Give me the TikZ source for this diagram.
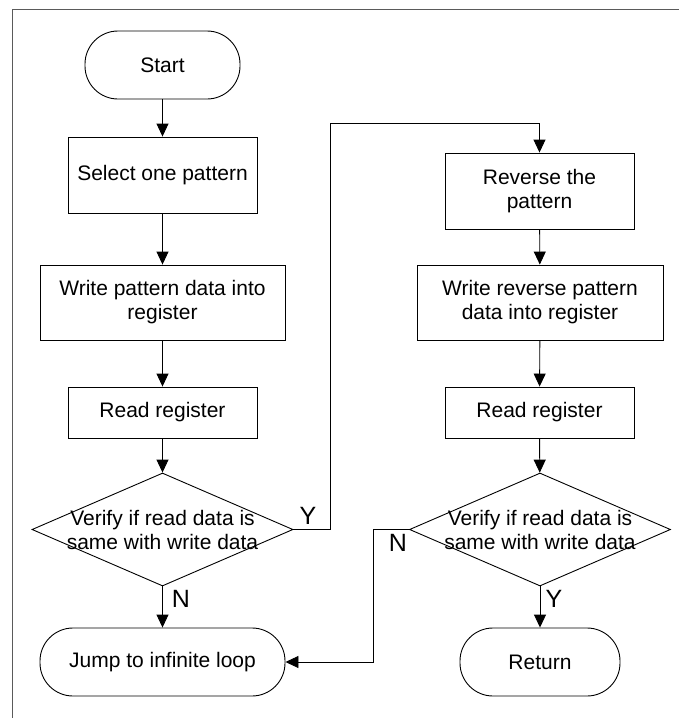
\documentclass[tikz,border=0pt]{standalone}
\usepackage{fontspec}
\setmainfont{Liberation Sans}
\usetikzlibrary{positioning,shapes.geometric,arrows.meta,calc}
\definecolor{myframe}{RGB}{90,90,90}

\begin{document}
\begin{tikzpicture}[x=1pt,y=-1pt,line width=0.9pt,
        every node/.style={font=\fontsize{21}{24}\selectfont,align=center,inner sep=0pt},
        procnode/.style={draw,rectangle,minimum width=189pt,minimum height=76pt},
        termnode/.style={draw,rectangle,rounded corners=33pt,minimum height=68pt},
        decnode/.style={draw,diamond,minimum width=261pt,minimum height=113pt},
        yn/.style={font=\fontsize{25}{26}\selectfont},
        ->/.style={-{Triangle[width=12pt,length=13pt]}}
      ]
      \useasboundingbox (0,0) rectangle (679,718);
      % the frame
      \draw[myframe,line width=1pt] (12,718) -- (12,9) -- (679,9);

      % the left column
      \node[termnode,minimum width=155pt] (start) at (162.5,65) {Start};
      \node[procnode] (sel) at (162.5,175) {Select one pattern};
      \node[procnode,minimum width=245pt,minimum height=75pt] (wr) at (162.5,302.5) {Write pattern data into\\register};
      \node[procnode,minimum height=51pt] (rd1) at (162.5,412.5) {Read register};
      \node[decnode,label={[align=center]center:Verify if read data is\\same with write data}] (d1) at (162.5,529.5) {};
      \node[termnode,minimum width=245pt] (jump) at (162.5,662) {Jump to infinite loop};

      % the right column
      \node[procnode] (rev) at (539.5,191) {Reverse the\\pattern};
      \node[procnode,minimum width=246pt,minimum height=75pt] (wrr) at (540,302.5) {Write reverse pattern\\data into register};
      \node[procnode,minimum height=51pt] (rd2) at (539.5,412.5) {Read register};
      \node[decnode,label={[align=center]center:Verify if read data is\\same with write data}] (d2) at (540,529.5) {};
      \node[termnode,minimum width=160pt] (ret) at (540,662) {Return};

      % the bends
      \coordinate (ybend) at (330,123);
      \coordinate (nbend) at (373,662);

      % the edges
      \draw[->] (start) -- (sel); \draw[->] (sel) -- (wr); \draw[->] (wr) -- (rd1);
      \draw[->] (rd1) -- (d1); \draw[->] (d1) -- (jump);
      \draw[->] (d1.east) -| (ybend) -| (rev.north);
      \draw[->] (rev) -- (wrr); \draw[->] (wrr) -- (rd2); \draw[->] (rd2) -- (d2);
      \draw[->] (d2.south) -- (ret.north);
      \draw[->] (d2.west) -| (nbend) -- (jump.east);

      % the answers
      \node[yn] (y1) at (308,516) {Y};
      \node[yn] (n1) at (181,599) {N};
      \node[yn] (n2) at (398,543) {N};
      \node[yn] (y2) at (554,599) {Y};
\end{tikzpicture}
\end{document}
